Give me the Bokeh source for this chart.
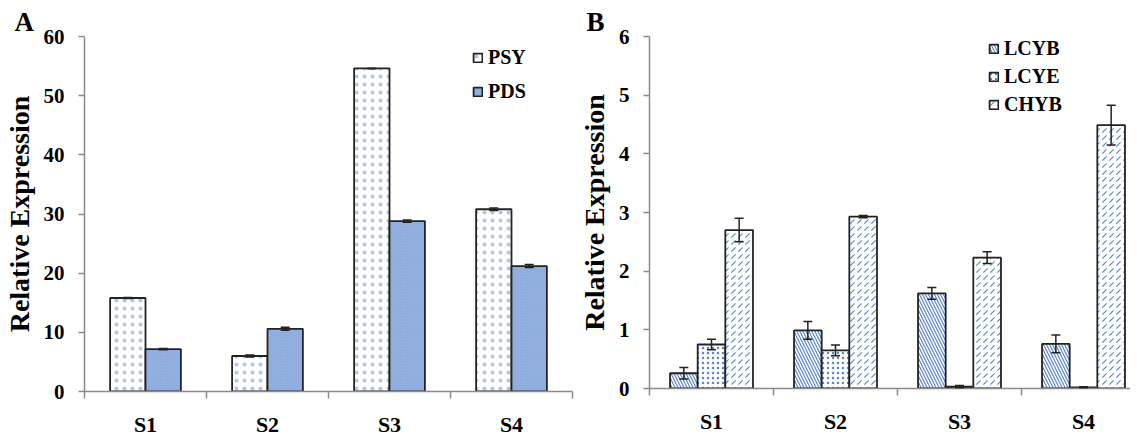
from bokeh.plotting import figure
from bokeh.models import (Range1d, FixedTicker, CustomJSTickFormatter, ColumnDataSource,
                          Whisker, TeeHead, Legend, LegendItem, Title)
from bokeh.layouts import row
from bokeh.embed import file_html
from bokeh.resources import INLINE

cats = ["S1", "S2", "S3", "S4"]

# Panel A
psy = [15.8, 6.0, 54.6, 30.8]
psy_err = [0.1, 0.15, 0.05, 0.2]
pds = [7.15, 10.6, 28.8, 21.2]
pds_err = [0.1, 0.25, 0.2, 0.25]
a_ticks = [0, 10, 20, 30, 40, 50, 60]

# Panel B
lcyb = [0.26, 0.99, 1.62, 0.76]
lcyb_err = [0.1, 0.15, 0.1, 0.15]
lcye = [0.75, 0.65, 0.03, 0.02]
lcye_err = [0.09, 0.09, 0.02, 0.01]
chyb = [2.70, 2.93, 2.23, 4.49]
chyb_err = [0.2, 0.02, 0.1, 0.34]
b_ticks = [0, 1, 2, 3, 4, 5, 6]

FONT = "Liberation Serif"
AXIS_GRAY = "#8a8a8a"
BLUE = "#5b86c8"

centers = [i + 0.5 for i in range(len(cats))]
bounds = list(range(len(cats) + 1))


def style(p, yticks, ylabel, letter, letter_offset):
    p.xgrid.visible = False
    p.ygrid.visible = False
    p.outline_line_color = None
    p.background_fill_color = "white"
    p.border_fill_color = "white"
    p.title = Title(text=letter, align="left", offset=letter_offset, standoff=0,
                    text_font=FONT, text_font_style="bold", text_font_size="27px",
                    text_color="black", vertical_align="bottom")
    p.xaxis.ticker = FixedTicker(ticks=centers, minor_ticks=bounds)
    p.xaxis.formatter = CustomJSTickFormatter(args=dict(labels=cats),
                                              code="return labels[Math.floor(tick)] || '';")
    p.yaxis.ticker = FixedTicker(ticks=yticks, minor_ticks=[])
    for ax in (p.xaxis, p.yaxis):
        ax.axis_line_color = AXIS_GRAY
        ax.axis_line_width = 1.5
        ax.major_tick_line_color = AXIS_GRAY
        ax.major_tick_line_width = 1.5
        ax.minor_tick_line_color = AXIS_GRAY
        ax.minor_tick_line_width = 1.5
        ax.major_label_text_font = FONT
        ax.major_label_text_font_style = "bold"
        ax.major_label_text_color = "black"
    p.xaxis.major_tick_out = 0
    p.xaxis.major_tick_in = 0
    p.xaxis.minor_tick_out = 7
    p.xaxis.minor_tick_in = 0
    p.xaxis.major_label_text_font_size = "22px"
    p.xaxis.major_label_standoff = 13
    p.yaxis.major_tick_out = 6
    p.yaxis.major_tick_in = 0
    p.yaxis.minor_tick_line_color = None
    p.yaxis.major_label_text_font_size = "21px"
    p.yaxis.major_label_standoff = 14
    p.yaxis.axis_label = ylabel
    p.yaxis.axis_label_text_font = FONT
    p.yaxis.axis_label_text_font_style = "bold"
    p.yaxis.axis_label_text_font_size = "28px"
    p.yaxis.axis_label_text_color = "black"
    p.yaxis.axis_label_standoff = 6


def add_bars(p, vals, errs, offset, width, **kw):
    src = ColumnDataSource(dict(
        x=[c + offset for c in centers],
        top=vals,
        upper=[v + e for v, e in zip(vals, errs)],
        lower=[v - e for v, e in zip(vals, errs)],
    ))
    r = p.vbar(x="x", top="top", bottom=0, width=width, source=src,
               line_color="#222222", line_width=1.8, **kw)
    w = Whisker(base="x", upper="upper", lower="lower", source=src,
                line_color="#222222", line_width=1.5, level="annotation",
                upper_head=TeeHead(size=9, line_color="#222222", line_width=1.5),
                lower_head=TeeHead(size=9, line_color="#222222", line_width=1.5))
    p.add_layout(w)
    return r


def make_legend(items, loc, spacing):
    return Legend(items=items, location=loc, label_text_font=FONT,
                  label_text_font_style="bold", label_text_font_size="20px",
                  label_text_color="black",
                  glyph_width=11, glyph_height=11, label_standoff=5,
                  label_height=20, spacing=spacing, padding=0, margin=0,
                  border_line_color=None, background_fill_alpha=0)


# ---------- Panel A ----------
pa = figure(frame_width=488, frame_height=355, x_range=Range1d(0, 4), y_range=Range1d(0, 60),
            min_border_left=75, min_border_right=3, min_border_top=36, min_border_bottom=36,
            output_backend="svg", toolbar_location=None)
style(pa, a_ticks, "Relative Expression", "A", -70)
wa = 0.29
r_psy = add_bars(pa, psy, psy_err, -wa / 2, wa, fill_color="white",
                 hatch_pattern=".", hatch_color="#6f96d0", hatch_scale=8, hatch_weight=0.5,
                 hatch_alpha=0.55)
r_pds = add_bars(pa, pds, pds_err, wa / 2, wa, fill_color="#94b1e2",
                 hatch_pattern="x", hatch_color="#7f9fd6", hatch_scale=3, hatch_weight=0.6,
                 hatch_alpha=0.6)
pa.add_layout(make_legend([LegendItem(label="PSY", renderers=[r_psy]),
                           LegendItem(label="PDS", renderers=[r_pds])], (388, 288), 11))

# ---------- Panel B ----------
pb = figure(frame_width=481, frame_height=352, x_range=Range1d(0, 3.879), y_range=Range1d(0, 6),
            min_border_left=74, min_border_right=0, min_border_top=36, min_border_bottom=39,
            output_backend="svg", toolbar_location=None)
style(pb, b_ticks, "Relative Expression", "B", -63)
wb = 0.223
r_lcyb = add_bars(pb, lcyb, lcyb_err, -wb, wb, fill_color="white",
                  hatch_pattern="\\", hatch_color=BLUE, hatch_scale=6, hatch_weight=1.2)
r_lcye = add_bars(pb, lcye, lcye_err, 0, wb, fill_color="white",
                  hatch_pattern=".", hatch_color=BLUE, hatch_scale=5, hatch_weight=1.2)
r_chyb = add_bars(pb, chyb, chyb_err, wb, wb, fill_color="white",
                  hatch_pattern=",", hatch_color=BLUE, hatch_scale=7, hatch_weight=1.1)
pb.add_layout(make_legend([LegendItem(label="LCYB", renderers=[r_lcyb]),
                           LegendItem(label="LCYE", renderers=[r_lcye]),
                           LegendItem(label="CHYB", renderers=[r_chyb])], (339, 272), 5))

layout = row(pa, pb)
open("out.html", "w").write(file_html(layout, INLINE))
